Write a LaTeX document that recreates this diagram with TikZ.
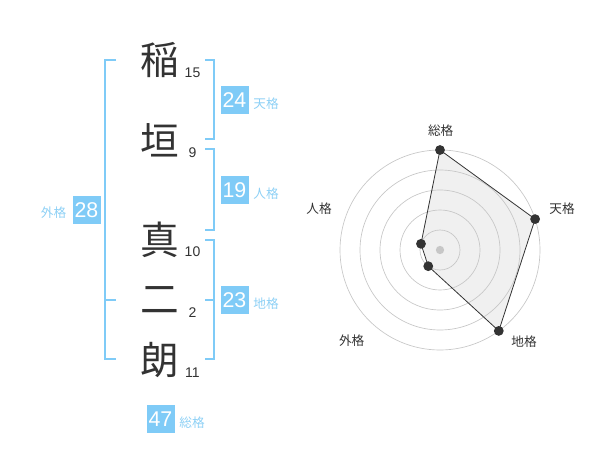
\documentclass[tikz,border=0pt]{standalone}
\usepackage{fontspec}
\setmainfont{Liberation Sans}
\newfontfamily\jpfont{Noto Sans CJK JP}
\definecolor{kakublue}{HTML}{7FCBF7}
\definecolor{kakutext}{HTML}{8DD0F5}
\definecolor{ink}{HTML}{333333}
\tikzset{
  kanji/.style={text=ink, font=\jpfont\fontsize{29}{29}\selectfont, inner sep=0pt},
  strokes/.style={text=ink, font=\fontsize{10.5}{10.5}\selectfont, inner sep=0pt},
  score/.style={fill=kakublue, text=white, font=\fontsize{16}{16}\selectfont, minimum width=21pt, minimum height=21pt, inner sep=0pt},
  kakuname/.style={text=kakutext, font=\jpfont\fontsize{9.5}{9.5}\selectfont, inner sep=0pt},
  radarname/.style={text=ink, font=\jpfont\fontsize{9.5}{9.5}\selectfont, inner sep=0pt},
  bracket/.style={draw=kakublue, line width=1.5pt},
  ring/.style={draw=black!22, line width=0.5pt}
}
\begin{document}
\begin{tikzpicture}[x=0.75pt,y=-0.75pt]
        \useasboundingbox (0,0) rectangle (600,470);
        \node[kanji] (k1) at (160,60) {稲};
        \node[kanji] (k2) at (160,140) {垣};
        \node[kanji] (k3) at (160,240) {真};
        \node[kanji] (k4) at (160,300) {二};
        \node[kanji] (k5) at (160,360) {朗};
        \node[strokes] (s1) at (192.5,73) {15};
        \node[strokes] (s2) at (192.5,153) {9};
        \node[strokes] (s3) at (192.5,252) {10};
        \node[strokes] (s4) at (192.5,313) {2};
        \node[strokes] (s5) at (192.5,373) {11};
        \draw[bracket] (205,60) -- (214,60) -- (214,139) -- (205,139);
        \draw[bracket] (205,149) -- (214,149) -- (214,230) -- (205,230);
        \draw[bracket] (205,240) -- (214,240) -- (214,359) -- (205,359);
        \draw[bracket] (205,300) -- (214,300);
        \draw[bracket] (116,60) -- (105,60) -- (105,359) -- (116,359);
        \draw[bracket] (105,300) -- (116,300);
        \node[score] (ten) at (234.5,100) {24};
        \node[kakuname] at (266,104) {天格};
        \node[score] (jin) at (234.5,190) {19};
        \node[kakuname] at (266,194) {人格};
        \node[score] (chi) at (234.5,300) {23};
        \node[kakuname] at (266,304) {地格};
        \node[score] (gai) at (86.5,210) {28};
        \node[kakuname] at (53.5,213) {外格};
        \node[score] (sou) at (160.5,419) {47};
        \node[kakuname] at (192,423) {総格};
        \begin{scope}[shift={(440,250)}]
            \coordinate (P1) at (90:75pt);
            \coordinate (P2) at (18:75pt);
            \coordinate (P3) at (-54:75pt);
            \coordinate (P4) at (-126:15pt);
            \coordinate (P5) at (162:15pt);
            \fill[black!6] (P1) -- (P2) -- (P3) -- (P4) -- (P5) -- cycle;
            \foreach \r in {15,30,45,60,75}
                \draw[ring] (0,0) circle[radius=\r pt];
            \draw[ink, line width=0.6pt] (P1) -- (P2) -- (P3) -- (P4) -- (P5) -- cycle;
            \node[circle, fill=black!22, inner sep=2.2pt] at (0,0) {};
            \foreach \n in {P1,P2,P3,P4,P5}
                \node at (\n)[circle,fill=ink,inner sep=2.6pt]{};
            \node[radarname] at (0.7,-119.3) {総格};
            \node[radarname] at (122,-41) {天格};
            \node[radarname] at (84,91.7) {地格};
            \node[radarname] at (-88.3,91) {外格};
            \node[radarname] at (-121,-41) {人格};
        \end{scope}
\end{tikzpicture}
\end{document}
